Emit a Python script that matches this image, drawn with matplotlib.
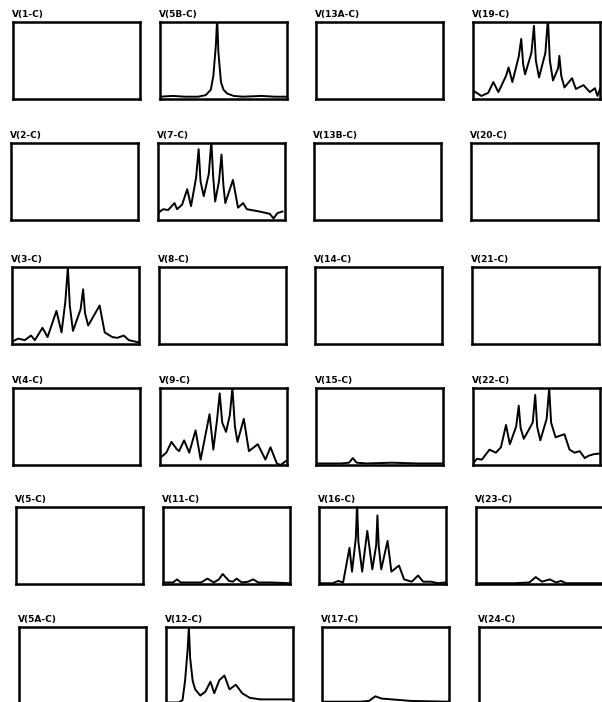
import matplotlib
matplotlib.use('Agg')
import matplotlib.pyplot as plt

# panel titles, row by row
titles = [
    ['V(1-C)', 'V(5B-C)', 'V(13A-C)', 'V(19-C)'],
    ['V(2-C)', 'V(7-C)', 'V(13B-C)', 'V(20-C)'],
    ['V(3-C)', 'V(8-C)', 'V(14-C)', 'V(21-C)'],
    ['V(4-C)', 'V(9-C)', 'V(15-C)', 'V(22-C)'],
    ['V(5-C)', 'V(11-C)', 'V(16-C)', 'V(23-C)'],
    ['V(5A-C)', 'V(12-C)', 'V(17-C)', 'V(24-C)'],
]

# traces (x and y as fraction of panel)
x_5b = [0, 0.1, 0.2, 0.3, 0.36, 0.4, 0.42, 0.44, 0.45, 0.46, 0.48, 0.5, 0.53, 0.58, 0.65, 0.8, 0.9, 1.0]
y_5b = [0.03, 0.04, 0.03, 0.03, 0.05, 0.12, 0.3, 0.7, 1.05, 0.6, 0.22, 0.12, 0.07, 0.04, 0.03, 0.04, 0.03, 0.03]

x_19 = [0, 0.066, 0.12, 0.16, 0.2, 0.26, 0.28, 0.31, 0.36, 0.38, 0.395, 0.41, 0.46, 0.48, 0.495,
        0.52, 0.57, 0.59, 0.605, 0.63, 0.67, 0.68, 0.695, 0.72, 0.78, 0.81, 0.87, 0.92, 0.96, 0.98, 1.0]
y_19 = [0.11, 0.04, 0.08, 0.22, 0.09, 0.3, 0.41, 0.22, 0.55, 0.78, 0.45, 0.32, 0.6, 0.95, 0.5,
        0.28, 0.6, 1.05, 0.5, 0.24, 0.4, 0.56, 0.3, 0.15, 0.27, 0.13, 0.18, 0.09, 0.14, 0.04, 0.13]

x_7 = [0, 0.04, 0.08, 0.13, 0.15, 0.19, 0.23, 0.26, 0.3, 0.32, 0.335, 0.36, 0.4, 0.42, 0.435, 0.45,
       0.48, 0.5, 0.515, 0.53, 0.59, 0.63, 0.67, 0.7, 0.8, 0.88, 0.91, 0.94, 0.98]
y_7 = [0.09, 0.14, 0.13, 0.22, 0.14, 0.2, 0.4, 0.18, 0.55, 0.92, 0.5, 0.31, 0.6, 1.02, 0.55, 0.24,
       0.5, 0.85, 0.45, 0.22, 0.52, 0.16, 0.22, 0.14, 0.11, 0.08, 0.02, 0.09, 0.11]

x_3 = [0, 0.05, 0.1, 0.15, 0.18, 0.24, 0.28, 0.35, 0.39, 0.42, 0.44, 0.455, 0.48, 0.54, 0.56,
       0.575, 0.6, 0.69, 0.73, 0.79, 0.83, 0.88, 0.92, 1.0]
y_3 = [0.03, 0.07, 0.05, 0.11, 0.05, 0.21, 0.09, 0.43, 0.15, 0.55, 1.0, 0.5, 0.17, 0.45, 0.71,
       0.4, 0.24, 0.5, 0.15, 0.09, 0.08, 0.11, 0.05, 0.02]

x_9 = [0, 0.05, 0.09, 0.13, 0.15, 0.19, 0.23, 0.28, 0.32, 0.39, 0.42, 0.45, 0.47, 0.49, 0.52,
       0.55, 0.57, 0.59, 0.61, 0.66, 0.7, 0.77, 0.83, 0.87, 0.92, 0.95, 0.99]
y_9 = [0.09, 0.16, 0.3, 0.21, 0.18, 0.32, 0.16, 0.45, 0.07, 0.66, 0.2, 0.6, 0.93, 0.55, 0.43,
       0.65, 1.0, 0.5, 0.3, 0.6, 0.18, 0.27, 0.07, 0.23, 0.02, 0.0, 0.05]

x_15 = [0, 0.2, 0.26, 0.29, 0.32, 0.4, 0.6, 0.8, 1.0]
y_15 = [0.02, 0.02, 0.03, 0.09, 0.03, 0.02, 0.03, 0.02, 0.02]

x_22 = [0, 0.03, 0.07, 0.13, 0.18, 0.22, 0.26, 0.29, 0.34, 0.36, 0.375, 0.4, 0.47, 0.49, 0.505,
        0.53, 0.58, 0.6, 0.615, 0.65, 0.72, 0.76, 0.8, 0.84, 0.88, 0.91, 0.95, 1.0]
y_22 = [0.02, 0.08, 0.07, 0.2, 0.16, 0.23, 0.52, 0.27, 0.5, 0.77, 0.48, 0.34, 0.55, 0.91, 0.5,
        0.32, 0.6, 1.0, 0.55, 0.36, 0.4, 0.2, 0.16, 0.18, 0.09, 0.12, 0.14, 0.15]

x_11 = [0, 0.08, 0.11, 0.14, 0.3, 0.35, 0.4, 0.44, 0.47, 0.52, 0.55, 0.58, 0.62, 0.67, 0.71,
        0.75, 0.85, 1.0]
y_11 = [0.02, 0.02, 0.06, 0.02, 0.02, 0.07, 0.02, 0.06, 0.13, 0.04, 0.03, 0.07, 0.02, 0.03, 0.06,
        0.02, 0.02, 0.01]

x_16 = [0, 0.11, 0.15, 0.19, 0.24, 0.26, 0.29, 0.3, 0.31, 0.34, 0.38, 0.42, 0.45, 0.46, 0.47,
        0.49, 0.54, 0.57, 0.63, 0.67, 0.73, 0.78, 0.82, 0.88, 0.94, 0.99]
y_16 = [0.01, 0.01, 0.04, 0.02, 0.47, 0.16, 0.6, 1.05, 0.55, 0.16, 0.69, 0.19, 0.5, 0.89, 0.5,
        0.19, 0.56, 0.16, 0.24, 0.06, 0.03, 0.11, 0.03, 0.03, 0.01, 0.02]

x_23 = [0, 0.3, 0.42, 0.47, 0.52, 0.58, 0.63, 0.67, 0.71, 0.8, 1.0]
y_23 = [0.01, 0.01, 0.02, 0.09, 0.03, 0.06, 0.02, 0.04, 0.01, 0.01, 0.01]

x_12 = [0, 0.1, 0.13, 0.15, 0.17, 0.18, 0.19, 0.21, 0.23, 0.27, 0.31, 0.35, 0.38, 0.42, 0.46,
        0.5, 0.55, 0.6, 0.66, 0.74, 0.86, 0.99]
y_12 = [0.02, 0.02, 0.05, 0.3, 0.7, 1.0, 0.6, 0.3, 0.19, 0.11, 0.16, 0.29, 0.14, 0.31, 0.37,
        0.19, 0.25, 0.14, 0.08, 0.06, 0.06, 0.06]

x_17 = [0, 0.3, 0.37, 0.42, 0.47, 0.55, 0.7, 1.0]
y_17 = [0.03, 0.03, 0.04, 0.1, 0.07, 0.06, 0.04, 0.03]

traces = {
    (0, 1): (x_5b, y_5b), (0, 3): (x_19, y_19),
    (1, 1): (x_7, y_7),
    (2, 0): (x_3, y_3),
    (3, 1): (x_9, y_9), (3, 2): (x_15, y_15), (3, 3): (x_22, y_22),
    (4, 1): (x_11, y_11), (4, 2): (x_16, y_16), (4, 3): (x_23, y_23),
    (5, 1): (x_12, y_12), (5, 2): (x_17, y_17),
}

W, H = 602, 702
fig = plt.figure(figsize=(W / 100, H / 100), dpi=100)

col_left = [13, 160, 316, 473]
row_top = [22, 143, 267, 388, 507, 627]
row_shift = [0, -2, -1, 0, 3, 6]
pw, ph = 127, 77

for r in range(6):
    for c in range(4):
        left = col_left[c] + row_shift[r]
        top = row_top[r]
        ax = fig.add_axes([left / W, 1 - (top + ph) / H, pw / W, ph / H])
        ax.set_xlim(0, 1)
        ax.set_ylim(0, 1)
        ax.set_xticks([])
        ax.set_yticks([])
        for s in ax.spines.values():
            s.set_linewidth(1.8)
        if (r, c) in traces:
            xs, ys = traces[(r, c)]
            ax.plot(xs, ys, color='black', lw=1.4, clip_on=True)
        fig.text((left - 1) / W, 1 - (top - 3) / H, titles[r][c],
                 fontsize=6.5, fontweight='bold', ha='left', va='bottom')

fig.savefig('out.png', dpi=100)
